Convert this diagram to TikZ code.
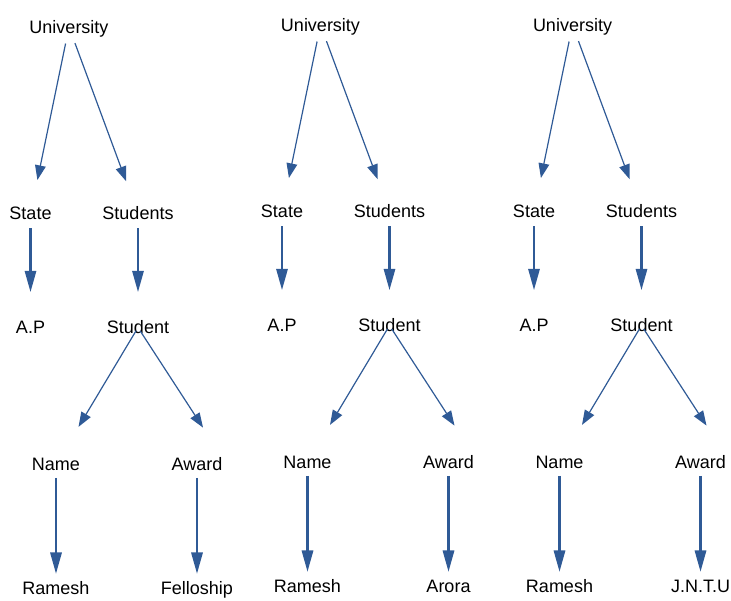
\documentclass[tikz,border=0pt]{standalone}
\usepackage{fontspec}
\setmainfont{Liberation Sans}
\usetikzlibrary{arrows.meta,trees}
\definecolor{arrowblue}{HTML}{2F5A96}

\begin{document}
\begin{tikzpicture}[x=0.75pt,y=-0.75pt,
    every node/.style={font=\fontsize{13.5}{16}\selectfont, inner sep=0pt, text height=9.7pt, text depth=0pt},
    thin arrow/.style={draw=arrowblue, line width=0.9pt, -{Triangle[length=11pt,width=8pt]}},
    thick arrow/.style={draw=arrowblue, line width=1.6pt, -{Triangle[length=16pt,width=8.5pt]}},
    level 1/.style={grow via three points={one child at (0,186.5) and two children at (-38.5,186.5) and (69,186.5)},
        edge from parent/.style={thin arrow, shorten <=7.5pt, shorten >=20.5pt}},
    level 2/.style={grow via three points={one child at (0,114) and two children at (0,114) and (0,114)},
        edge from parent/.style={thick arrow, shorten <=6pt, shorten >=21.5pt}},
    level 3/.style={grow via three points={one child at (0,137) and two children at (-82,137) and (59,137)},
        edge from parent/.style={thin arrow, shorten <=-3pt, shorten >=27pt}},
    level 4/.style={grow via three points={one child at (0,124) and two children at (0,124) and (0,124)},
        child anchor=north,
        edge from parent/.style={thick arrow, shorten <=5pt, shorten >=6pt}}]
\useasboundingbox (0,0) rectangle (731,600);
\foreach \t/\ux/\uy/\award in {1/69/27/Felloship, 2/320.5/25/Arora, 3/572.5/25/J.N.T.U}{
    \node (uni\t) at (\ux,\uy) {University}
    child{node (state\t) {State}
        child{node (ap\t) {A.P}}}
    child{node (studs\t) {Students}
        child{node (stud\t) {Student}
            child{node (name\t) {Name}
                child{node (ramesh\t) {Ramesh}}}
            child[child anchor=north east]{node (award\t) {Award}
                child{node (winner\t) {\award}}}}};
}
\end{tikzpicture}
\end{document}
